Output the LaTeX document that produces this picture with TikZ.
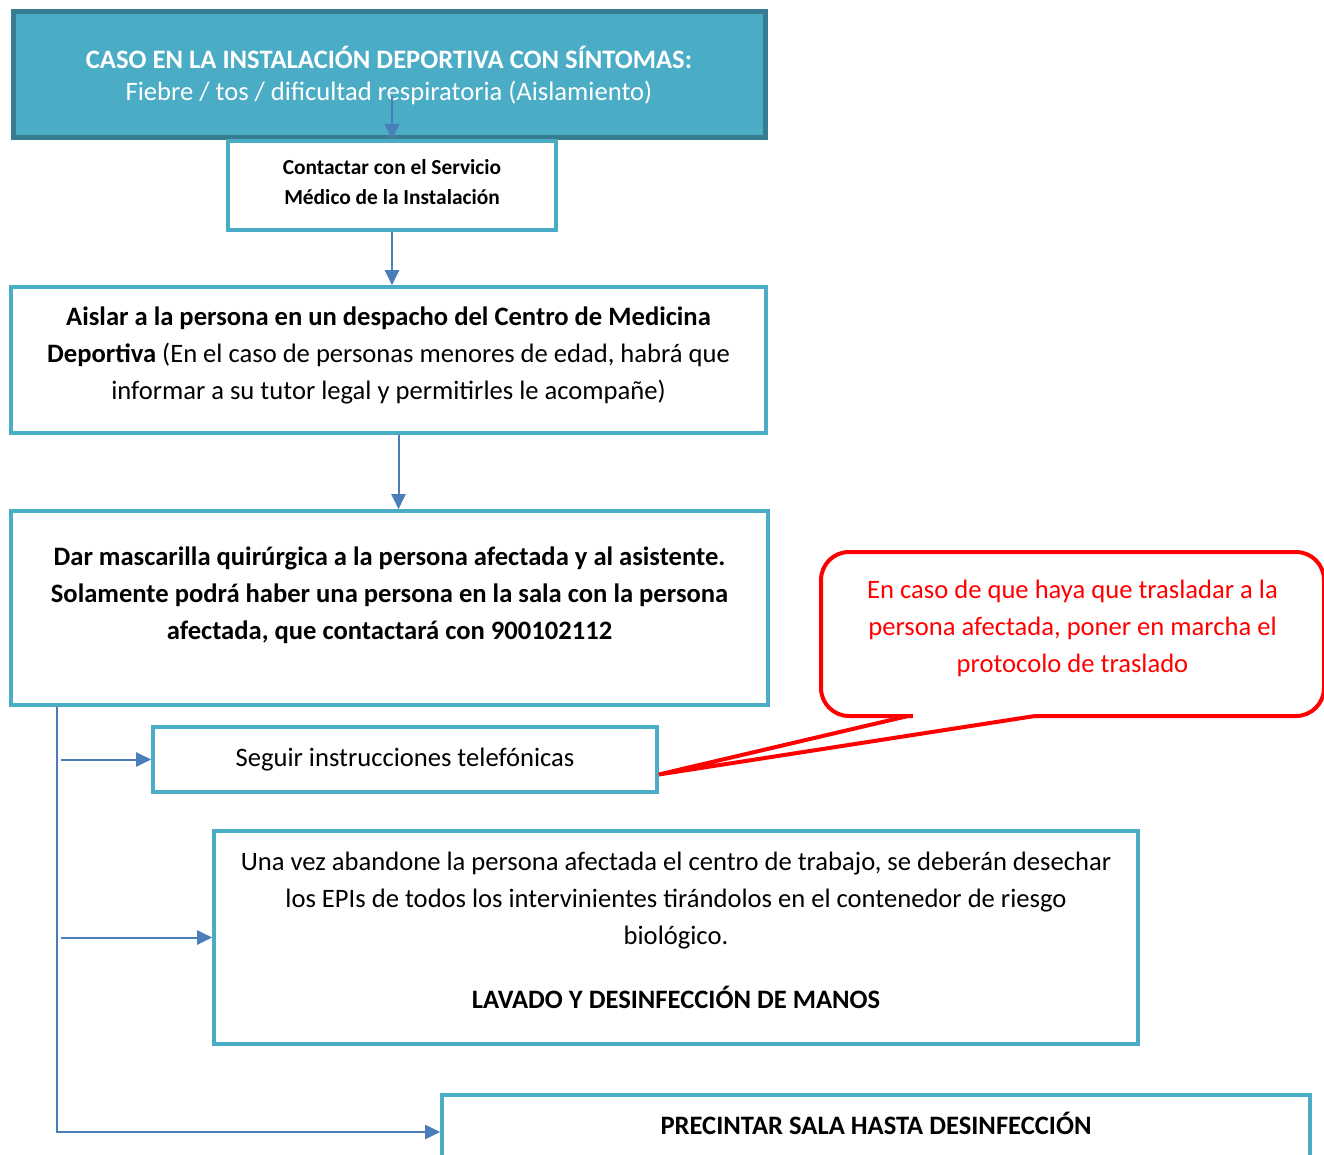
\documentclass[tikz,border=0pt]{standalone}
\usepackage{fontspec}
\setmainfont{Carlito}
\usepackage{tikz}
\usetikzlibrary{arrows.meta,positioning}
\tikzset{>={Triangle[length=7.5pt,width=7pt]}}
\definecolor{cabecera}{HTML}{4BACC6}
\definecolor{cabeceraborde}{HTML}{377D91}
\definecolor{cajaazul}{HTML}{4BACC6}
\definecolor{flechaazul}{HTML}{4A7EBB}
\newcommand{\bajar}[1]{\rule[-#1]{0pt}{#1}}

\begin{document}
\begin{tikzpicture}[x=0.5pt,y=-0.5pt,
    caja/.style={draw=cajaazul, line width=1.8pt, fill=white, align=center, inner sep=0pt,
                 font=\fontsize{13.3}{18.5}\selectfont},
    cabeza/.style={caja, draw=cabeceraborde, fill=cabecera, line width=2.5pt, text=white,
                   font=\fontsize{13.3}{16}\selectfont},
    globo/.style={draw=red, line width=2pt, rounded corners=14pt, text=red, align=center,
                  outer sep=0pt, font=\fontsize{13.3}{18.5}\selectfont},
    flecha/.style={->, draw=flechaazul, line width=1pt}]
                        \clip (0,0) rectangle (1324,1155);
                        \useasboundingbox (0,0) rectangle (1324,1155);

                        \node[cabeza, minimum width=376pt, minimum height=63pt] (caso) at (389,75)
                        {\textbf{CASO EN LA INSTALACIÓN DEPORTIVA CON SÍNTOMAS:}\\Fiebre / tos / dificultad respiratoria (Aislamiento)};
                        \node[caja, minimum width=164pt, minimum height=44.5pt, font=\fontsize{10.7}{15}\selectfont\bfseries] (contactar) at (392,185.5)
                        {Contactar con el Servicio\\Médico de la Instalación\bajar{4pt}};
                        \node[caja, minimum width=377.5pt, minimum height=73pt] (aislar) at (388.5,360)
                        {\textbf{Aislar a la persona en un despacho del Centro de Medicina}\\\textbf{Deportiva} (En el caso de personas menores de edad, habrá que\\informar a su tutor legal y permitirles le acompañe)\bajar{7.3pt}};
                        \node[caja, minimum width=378.5pt, minimum height=97pt, font=\fontsize{13.3}{18.5}\selectfont\bfseries] (dar) at (389.5,608)
                        {Dar mascarilla quirúrgica a la persona afectada y al asistente.\\Solamente podrá haber una persona en la sala con la persona\\afectada, que contactará con 900102112\bajar{15pt}};
                        \node[caja, minimum width=252pt, minimum height=32.5pt] (seguir) at (405,759.5)
                        {Seguir instrucciones telefónicas};
                        \node[caja, minimum width=462pt, minimum height=106.5pt] (una) at (676,937.5)
                        {Una vez abandone la persona afectada el centro de trabajo, se deberán desechar\\los EPIs de todos los intervinientes tirándolos en el contenedor de riesgo\\biológico.\\[13.5pt]\textbf{LAVADO Y DESINFECCIÓN DE MANOS}\bajar{7pt}};
                        \node[caja, minimum width=434pt, minimum height=37pt, text depth=9pt] (precintar) at (876,1132)
                        {\textbf{PRECINTAR SALA HASTA DESINFECCIÓN}};
                        \node[globo, minimum width=251.5pt, minimum height=82pt] (nota) at (1072.5,634)
                        {En caso de que haya que trasladar a la\\persona afectada, poner en marcha el\\protocolo de traslado\bajar{7.7pt}};

                        \coordinate (punta) at ([yshift=-7.5pt]seguir.east);
                        \fill[white] ([xshift=-80pt,yshift=2pt]nota.south) rectangle ([xshift=-19pt,yshift=-2pt]nota.south);
                        \draw[red, line width=2pt] ([xshift=-82.25pt]nota.south) -- (punta) -- ([xshift=-18.75pt]nota.south);

                        \draw[flecha] ([yshift=21.5pt]contactar.north) -- (contactar.north);
                        \draw[flecha] (contactar.south) -- (contactar.south |- aislar.north);
                        \draw[flecha] ([xshift=5pt]aislar.south) -- ([xshift=5pt]aislar.south |- dar.north);

                        \coordinate (tronco) at ([xshift=24pt]dar.south west);
                        \draw[flecha] (tronco) |- (precintar.west);
                        \draw[flecha] ([xshift=2pt]tronco |- seguir.west) -- (seguir.west);
                        \draw[flecha] ([xshift=2pt]tronco |- una.west) -- (una.west);
                    \end{tikzpicture}
\end{document}
